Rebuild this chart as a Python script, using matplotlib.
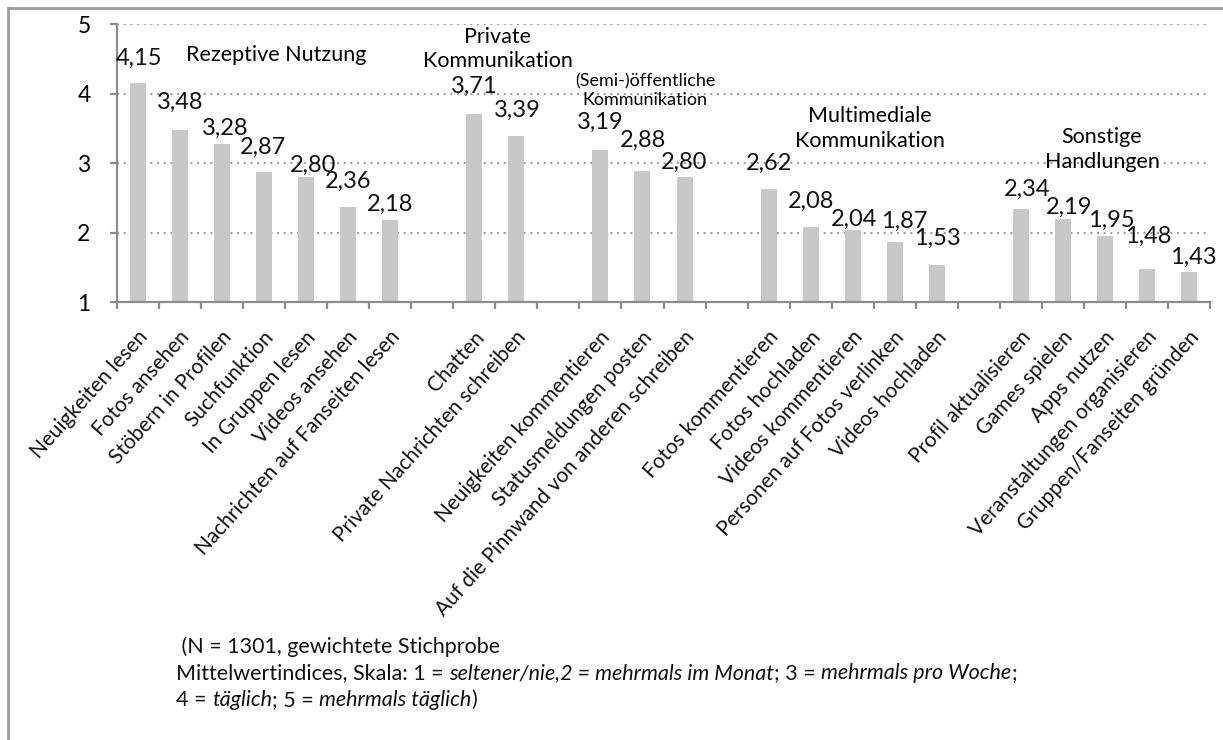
import matplotlib
matplotlib.use('Agg')
import matplotlib.pyplot as plt
import matplotlib.transforms as mtransforms
from matplotlib.lines import Line2D
import numpy as np

plt.rcParams['font.family'] = ['Lato', 'DejaVu Sans']

# groups of activities (mean index values, scale 1..5)
rezeptiv = ['Neuigkeiten lesen', 'Fotos ansehen', 'Stöbern in Profilen', 'Suchfunktion',
            'In Gruppen lesen', 'Videos ansehen', 'Nachrichten auf Fanseiten lesen']
rezeptiv_vals = [4.15, 3.48, 3.28, 2.87, 2.80, 2.36, 2.18]

privat = ['Chatten', 'Private Nachrichten schreiben']
privat_vals = [3.71, 3.39]

oeffentlich = ['Neuigkeiten kommentieren', 'Statusmeldungen posten',
               'Auf die Pinnwand von anderen schreiben']
oeffentlich_vals = [3.19, 2.88, 2.80]

multimedial = ['Fotos kommentieren', 'Fotos hochladen', 'Videos kommentieren',
               'Personen auf Fotos verlinken', 'Videos hochladen']
multimedial_vals = [2.62, 2.08, 2.04, 1.87, 1.53]

sonstige = ['Profil aktualisieren', 'Games spielen', 'Apps nutzen',
            'Veranstaltungen organisieren', 'Gruppen/Fanseiten gründen']
sonstige_vals = [2.34, 2.19, 1.95, 1.48, 1.43]

group_titles = ['Rezeptive Nutzung', 'Private\nKommunikation',
                '(Semi-)öffentliche\nKommunikation', 'Multimediale\nKommunikation',
                'Sonstige\nHandlungen']

groups = [(rezeptiv, rezeptiv_vals), (privat, privat_vals), (oeffentlich, oeffentlich_vals),
          (multimedial, multimedial_vals), (sonstige, sonstige_vals)]

# build slot positions: one empty slot between the groups
labels, values, xpos = [], [], []
slot = 0
for names, vals in groups:
    for n, v in zip(names, vals):
        labels.append(n)
        values.append(v)
        xpos.append(slot)
        slot += 1
    slot += 1
n_slots = slot - 1

# label offsets in pixels (dx, up) as placed in the original
label_off = [(1, 25), (0, 27), (3, 15), (-1, 25), (7, 12), (0, 26), (0, 16),
             (0, 27), (1, 26),
             (0, 27), (1, 31), (0, 15),
             (0, 26), (0, 26), (1, 10), (9, 20), (1, 27),
             (6, 20), (6, 12), (6, 16), (1, 32), (4, 15)]

fig = plt.figure(figsize=(12.23, 7.40), dpi=100)
ax = fig.add_axes([117 / 1223, 1 - 302 / 740, (1210 - 117) / 1223, (302 - 24) / 740])

ax.bar(xpos, values, width=0.38, color='#c8c8c8', zorder=2)
ax.set_xlim(-0.5, n_slots - 0.5)
ax.set_ylim(1, 5)

for x, v, (dx, up) in zip(xpos, values, label_off):
    ax.annotate(f'{v:.2f}'.replace('.', ','), xy=(x, v), xytext=(dx, up),
                textcoords='offset pixels', ha='center', va='center', fontsize=17,
                color='#111111', zorder=3)

# gridlines
ax.set_yticks([1, 2, 3, 4, 5])
for y in [2, 3, 4, 5]:
    ax.axhline(y, color='#a0a0a0', lw=1.5, ls=(0, (1, 2.2)), zorder=1)

for s in ['top', 'right']:
    ax.spines[s].set_visible(False)
for s in ['left', 'bottom']:
    ax.spines[s].set_color('#8c8c8c')
    ax.spines[s].set_linewidth(1.6)

ax.tick_params(axis='y', direction='out', length=5, width=1.6, color='#8c8c8c',
               labelsize=16.5, pad=14)
ax.set_xticks(xpos)
ax.set_xticklabels(labels, rotation=48, ha='right', va='top', rotation_mode='anchor',
                   fontsize=15, color='#111111')
ax.tick_params(axis='x', which='major', length=0, pad=18)
ax.set_xticks(np.arange(-0.5, n_slots, 1.0), minor=True)
ax.tick_params(axis='x', which='minor', direction='out', length=5, width=1.6,
               color='#8c8c8c')
shift = mtransforms.ScaledTranslation(-1 / 100, 0, fig.dpi_scale_trans)
for t in ax.get_xticklabels():
    t.set_transform(t.get_transform() + shift)

# group titles (data coordinates)
title_pos = [(3.28, 4.55), (8.56, 4.64), (12.06, 4.04), (17.41, 3.50), (22.93, 3.19)]
for (tx, ty), title in zip(title_pos, group_titles):
    if title.startswith('(Semi'):
        ax.text(tx, ty, title, ha='center', va='center', fontsize=13,
                linespacing=1.25, zorder=4)
    else:
        ax.text(tx, ty, title, ha='center', va='center', fontsize=15.5,
                linespacing=1.3, zorder=4)

# footnote with italic parts, pieces chained one after another
foot_lines = [
    [(' (N = 1301, gewichtete Stichprobe', 'normal')],
    [('Mittelwertindices, Skala: 1 = ', 'normal'), ('seltener/nie,2 = mehrmals im Monat', 'italic'),
     ('; 3 = ', 'normal'), ('mehrmals pro Woche', 'italic'), (';', 'normal')],
    [('4 = ', 'normal'), ('täglich', 'italic'), ('; 5 = ', 'normal'),
     ('mehrmals täglich', 'italic'), (')', 'normal')],
]
line_y = [657, 683, 710]
for parts, py in zip(foot_lines, line_y):
    prev = None
    for txt, style in parts:
        if prev is None:
            prev = fig.text(176 / 1223, 1 - py / 740, txt, ha='left', va='bottom',
                            fontsize=15.5, style=style, color='#111111')
        else:
            prev = ax.annotate(txt, xy=(1, 0), xycoords=prev, ha='left', va='bottom',
                               fontsize=15.5, style=style, color='#111111',
                               annotation_clip=False)

# outer frame (top and left edge only visible in the original crop)
fig.add_artist(Line2D([8 / 1223, 1], [1 - 8 / 740, 1 - 8 / 740],
                      transform=fig.transFigure, color='#999999', lw=2))
fig.add_artist(Line2D([8 / 1223, 8 / 1223], [0, 1 - 8 / 740],
                      transform=fig.transFigure, color='#999999', lw=2))

plt.savefig('out.png', dpi=100)
